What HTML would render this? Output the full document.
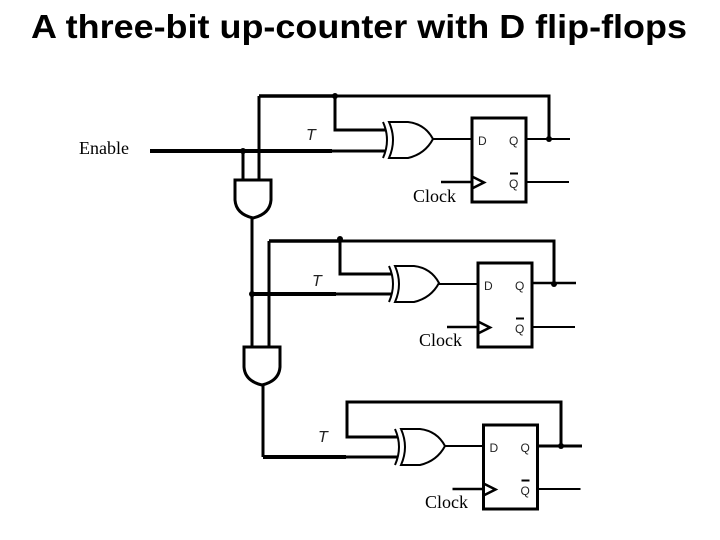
<!DOCTYPE html>
<html>
<head>
<meta charset="utf-8">
<style>
html,body{margin:0;padding:0;background:#fff;width:720px;height:540px;overflow:hidden}
svg{display:block}
.w{fill:none;stroke:#000;stroke-linejoin:miter}
.s{font-family:"Liberation Serif",serif;font-size:18px;fill:#000}
.a{font-family:"Liberation Sans",sans-serif;font-size:12px;fill:#222}
.t{font-family:"Liberation Sans",sans-serif;font-size:16px;font-style:italic;fill:#222}
</style>
</head>
<body>
<svg width="720" height="540" viewBox="0 0 720 540" xmlns="http://www.w3.org/2000/svg">
<defs>
<g id="xor">
  <path class="w" stroke-width="2" d="M383,122 Q391,140 383,158"/>
  <path class="w" stroke-width="2" d="M389,122 L408,122 Q425,124 433,139 Q425,154 408,158 L389,158 Q397,140 389,122 Z"/>
</g>
<g id="ff">
  <rect class="w" stroke-width="3" x="472" y="118" width="54" height="84"/>
  <path class="w" stroke-width="2.500" d="M473,177 L484,182.500 L473,188"/>
  <path class="w" stroke-width="2" d="M433,139 H472"/>
  <path class="w" stroke-width="2" d="M526,182 H569"/>
  <path class="w" stroke-width="2.500" d="M441,182 H472"/>
  <path class="w" stroke-width="2" d="M510,173.500 H518"/>
  <text class="a" x="478" y="145">D</text>
  <text class="a" x="509" y="145">Q</text>
  <text class="a" x="509" y="188">Q</text>
</g>
<g id="and">
  <path class="w" stroke-width="3" d="M235,180 H271 V200 Q270,214 253,218 Q236,214 235,200 Z"/>
</g>
</defs>

<text x="31" y="38" font-family="'Liberation Sans',sans-serif" font-weight="bold" font-size="33" fill="#000" textLength="656" lengthAdjust="spacingAndGlyphs">A three-bit up-counter with D flip-flops</text>
<text class="s" x="79" y="154">Enable</text>

<!-- Stage 1 -->
<use href="#xor"/>
<use href="#ff"/>
<path class="w" stroke-width="3.500" d="M259,96 H335"/>
<path class="w" stroke-width="3" d="M335,96 H549 V139"/>
<path class="w" stroke-width="3" d="M259,96 V180"/>
<path class="w" stroke-width="3" d="M335,96 V130 H385"/>
<path class="w" stroke-width="4" d="M150,151 H332"/>
<path class="w" stroke-width="3" d="M332,151 H385"/>
<path class="w" stroke-width="2" d="M526,139 H570"/>
<path class="w" stroke-width="3" d="M243,151 V180"/>
<circle cx="335" cy="96" r="3"/><circle cx="243" cy="151" r="3"/><circle cx="549" cy="139" r="3"/>
<text class="t" x="306" y="140">T</text>
<text class="s" x="413" y="202">Clock</text>
<use href="#and"/>
<path class="w" stroke-width="3" d="M252,218 V347"/>

<!-- Stage 2 -->
<use href="#xor" transform="translate(6,144)"/>
<use href="#ff" transform="translate(6,145)"/>
<path class="w" stroke-width="3.500" d="M269,241 H340"/>
<path class="w" stroke-width="3" d="M340,241 H554 V283"/>
<path class="w" stroke-width="3" d="M269,241 V347"/>
<path class="w" stroke-width="3" d="M340,239 V274 H392"/>
<path class="w" stroke-width="4" d="M252,294 H336"/>
<path class="w" stroke-width="3" d="M336,294 H392"/>
<path class="w" stroke-width="2.500" d="M532,283 H576"/>
<circle cx="340" cy="239" r="3"/><circle cx="252" cy="294" r="3"/><circle cx="554" cy="284" r="3"/>
<text class="t" x="312" y="286">T</text>
<text class="s" x="419" y="346">Clock</text>
<use href="#and" transform="translate(9,167)"/>
<path class="w" stroke-width="3" d="M263,385 V457"/>

<!-- Stage 3 -->
<use href="#xor" transform="translate(12,307)"/>
<use href="#ff" transform="translate(11.500,307)"/>
<path class="w" stroke-width="3" d="M561,446 V402 H347 V437 H397"/>
<path class="w" stroke-width="4" d="M263,457 H346"/>
<path class="w" stroke-width="3" d="M346,457 H397"/>
<path class="w" stroke-width="3" d="M538,446 H582"/>
<circle cx="561" cy="446" r="3"/>
<text class="t" x="318" y="442">T</text>
<text class="s" x="425" y="508">Clock</text>
</svg>
</body>
</html>
